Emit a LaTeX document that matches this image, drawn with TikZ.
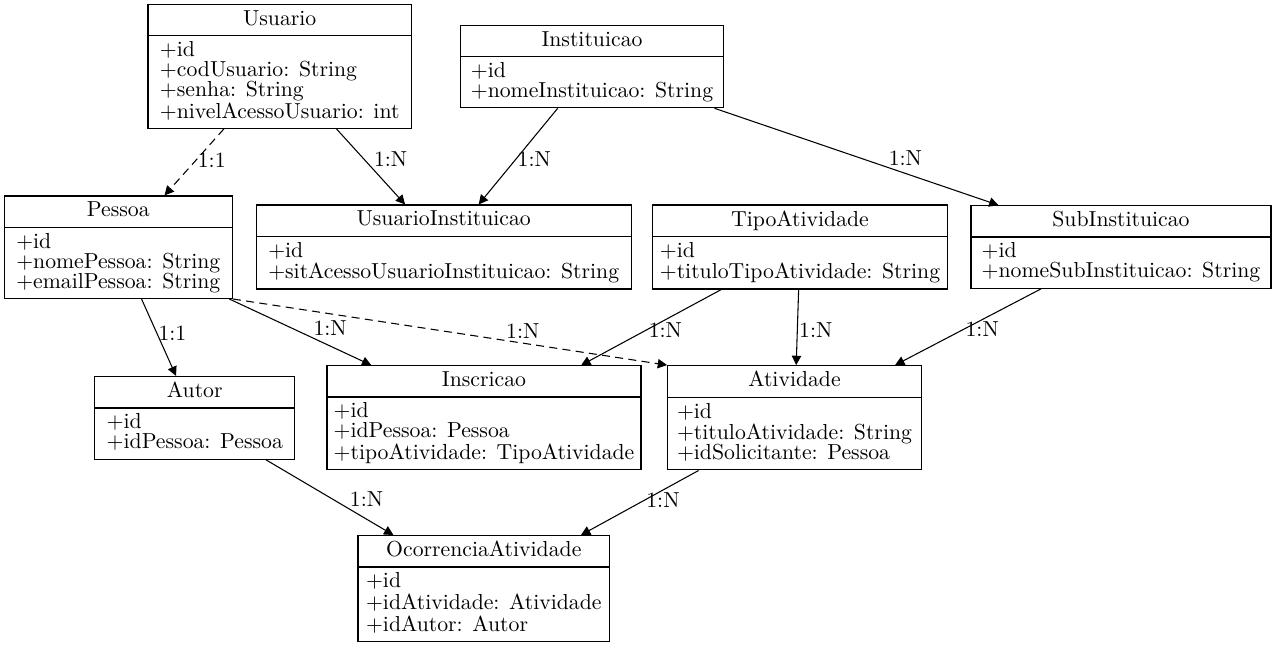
\documentclass[tikz,border=0pt]{standalone}
\usepackage{fontspec}
\setmainfont{lmroman10-regular.otf}
\usepackage{tikz}
\usetikzlibrary{shapes, arrows.meta, calc, positioning}

% altura fixa de cada linha dos campos
\newcommand{\ls}{\rule[-3.5pt]{0pt}{15pt}}

\begin{document}
\begin{tikzpicture}[x=0.75pt, y=-0.75pt, >={Triangle[length=7pt, width=7pt]}]
	\tikzstyle{classe} = [draw, line width=0.9pt, rectangle split, rectangle split parts=2, rectangle split part align={center, left}, align=left, inner xsep=9pt, inner ysep=3.75pt, font=\fontsize{16.3}{15}\selectfont]
	\tikzstyle{rotulo} = [inner sep=1pt, font=\fontsize{16.3}{15}\selectfont]
	\tikzstyle{tracejado} = [dash pattern=on 6pt off 4pt]

	\useasboundingbox (0,0) rectangle (1277,645);

	% linha de cima
	\node[classe] (usu) at (279.7,66.3) {\ls Usuario \nodepart{two}\ls +id\\ \ls +codUsuario: String\\ \ls +senha: String\\ \ls +nivelAcessoUsuario: int};
	\node[classe, inner xsep=7.5pt] (inst) at (592,66.5) {\ls Instituicao \nodepart{two}\ls +id\\ \ls +nomeInstituicao: String};

	% linha do meio
	\node[classe] (pes) at (118.3,247.2) {\ls Pessoa \nodepart{two}\ls +id\\ \ls +nomePessoa: String\\ \ls +emailPessoa: String};
	\node[classe] (usuinst) at (443.7,247) {\ls UsuarioInstituicao \nodepart{two}\ls +id\\ \ls +sitAcessoUsuarioInstituicao: String};
	\node[classe, inner xsep=5.5pt] (tipo) at (800,247) {\ls TipoAtividade \nodepart{two}\ls +id\\ \ls +tituloTipoAtividade: String};
	\node[classe, inner xsep=8pt] (sub) at (1121,247) {\ls SubInstituicao \nodepart{two}\ls +id\\ \ls +nomeSubInstituicao: String};

	% linha de baixo
	\node[classe] (autor) at (194.8,417.8) {\ls Autor \nodepart{two}\ls +id\\ \ls +idPessoa: Pessoa};
	\node[classe, inner xsep=5pt] (insc) at (484,417.8) {\ls Inscricao \nodepart{two}\ls +id\\ \ls +idPessoa: Pessoa\\ \ls +tipoAtividade: TipoAtividade};
	\node[classe, inner xsep=7pt] (ativ) at (794.5,417.8) {\ls Atividade \nodepart{two}\ls +id\\ \ls +tituloAtividade: String\\ \ls +idSolicitante: Pessoa};
	\node[classe, inner xsep=6pt] (ocor) at (483.8,588.5) {\ls OcorrenciaAtividade \nodepart{two}\ls +id\\ \ls +idAtividade: Atividade\\ \ls +idAutor: Autor};

	\path[->, line width=0.8pt]
		(usu) edge[tracejado] node[rotulo, pos=.47, anchor=west] {1:1} (pes)
		(usu) edge node[rotulo, pos=.52, anchor=south west] {1:N} (usuinst)
		(inst) edge node[rotulo, pos=.53, anchor=west] {1:N} (usuinst)
		(inst) edge node[rotulo, pos=.607, anchor=south west] {1:N} (sub)

		(pes) edge node[rotulo, pos=.44, anchor=west] {1:1} (autor)
		(pes) edge node[rotulo, pos=.58, anchor=south west] {1:N} (insc)
		(pes.south east) edge[tracejado] node[rotulo, pos=.625, anchor=south west] {1:N} (ativ.north west)
		(tipo) edge node[rotulo, pos=.53, anchor=west] {1:N} (insc)
		(tipo) edge node[rotulo, pos=.53, anchor=west] {1:N} (ativ)
		(sub) edge node[rotulo, pos=.53, anchor=west] {1:N} (ativ)

		(autor) edge node[rotulo, pos=.645, anchor=south west] {1:N} (ocor)
		(ativ) edge node[rotulo, pos=.46, anchor=west] {1:N} (ocor)
	;
\end{tikzpicture}
\end{document}
